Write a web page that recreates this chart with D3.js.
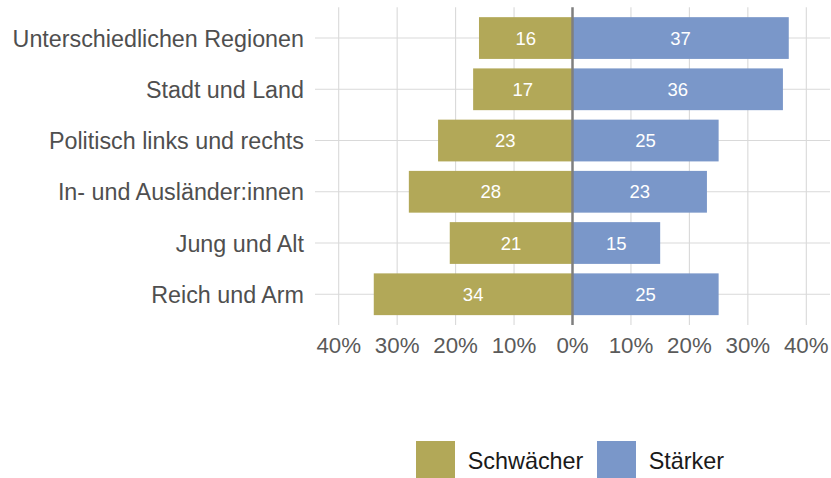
<!DOCTYPE html>
<html>
<head>
<meta charset="utf-8">
<script src="https://cdn.jsdelivr.net/npm/d3@7"></script>
<style>
  body { margin: 0; background: #fff; }
  text { font-family: "Liberation Sans", Arial, Helvetica, sans-serif; }
</style>
</head>
<body>
<div id="chart"></div>
<script>
var width = 831,
    height = 478;

// data
var categories = ["Unterschiedlichen Regionen", "Stadt und Land", "Politisch links und rechts",
                  "In- und Ausländer:innen", "Jung und Alt", "Reich und Arm"];
var schwaecher = [16, 17, 23, 28, 21, 34];
var staerker = [37, 36, 25, 23, 15, 25];
var ticks = [-40, -30, -20, -10, 0, 10, 20, 30, 40];
var seriesNames = ["Schwächer", "Stärker"];
var colors = ["#b2a858", "#7a97c9"];

var svg = d3.select("#chart")
    .append("svg")
    .attr("width", width)
    .attr("height", height);

var panelTop = 7.3, panelBottom = 325, panelLeft = 315, panelRight = 830;

var x = d3.scaleLinear().domain([-40, 40]).range([338.7, 806.3]);
var y = d3.scalePoint().domain(categories).range([panelTop, panelBottom]).padding(0.6);
var barH = y.step() * 0.815;

// grid
svg.selectAll(".vgrid")
    .data(ticks.filter(function(d) { return d != 0; }))
    .enter().append("line")
    .attr("x1", function(d) { return x(d); })
    .attr("x2", function(d) { return x(d); })
    .attr("y1", panelTop).attr("y2", panelBottom)
    .attr("stroke", "#d9d9d9").attr("stroke-width", 1.1);

svg.selectAll(".hgrid")
    .data(categories)
    .enter().append("line")
    .attr("x1", panelLeft).attr("x2", panelRight)
    .attr("y1", function(d) { return y(d); })
    .attr("y2", function(d) { return y(d); })
    .attr("stroke", "#d9d9d9").attr("stroke-width", 1.1);

// bars
var rows = categories.map(function(c, i) { return {cat: c, neg: schwaecher[i], pos: staerker[i]}; });

svg.selectAll(".neg")
    .data(rows)
    .enter().append("rect")
    .attr("x", function(d) { return x(-d.neg); })
    .attr("width", function(d) { return x(0) - x(-d.neg); })
    .attr("y", function(d) { return y(d.cat) - barH / 2; })
    .attr("height", barH)
    .attr("fill", colors[0]);

svg.selectAll(".pos")
    .data(rows)
    .enter().append("rect")
    .attr("x", x(0))
    .attr("width", function(d) { return x(d.pos) - x(0); })
    .attr("y", function(d) { return y(d.cat) - barH / 2; })
    .attr("height", barH)
    .attr("fill", colors[1]);

// bar labels
svg.selectAll(".negLabel")
    .data(rows)
    .enter().append("text")
    .attr("x", function(d) { return x(-d.neg / 2); })
    .attr("y", function(d) { return y(d.cat); })
    .attr("dy", "0.36em")
    .attr("text-anchor", "middle")
    .attr("fill", "#fff")
    .style("font-size", "18.5px")
    .text(function(d) { return d.neg; });

svg.selectAll(".posLabel")
    .data(rows)
    .enter().append("text")
    .attr("x", function(d) { return x(d.pos / 2); })
    .attr("y", function(d) { return y(d.cat); })
    .attr("dy", "0.36em")
    .attr("text-anchor", "middle")
    .attr("fill", "#fff")
    .style("font-size", "18.5px")
    .text(function(d) { return d.pos; });

// zero line
svg.append("line")
    .attr("x1", x(0)).attr("x2", x(0))
    .attr("y1", panelTop).attr("y2", panelBottom)
    .attr("stroke", "#7f7f7f").attr("stroke-width", 2.5);

// y labels
svg.selectAll(".ylab")
    .data(categories)
    .enter().append("text")
    .attr("x", 304)
    .attr("y", function(d) { return y(d); })
    .attr("dy", "0.37em")
    .attr("text-anchor", "end")
    .attr("fill", "#4f4f4f")
    .style("font-size", "23.3px")
    .text(function(d) { return d; });

// x tick labels
svg.selectAll(".xlab")
    .data(ticks)
    .enter().append("text")
    .attr("x", function(d) { return x(d); })
    .attr("y", 352.7)
    .attr("text-anchor", "middle")
    .attr("fill", "#5a5a5a")
    .style("font-size", "22.3px")
    .text(function(d) { return Math.abs(d) + "%"; });

// legend
var legendX = [416, 597];
var legend = svg.selectAll(".legend")
    .data(seriesNames)
    .enter().append("g")
    .attr("transform", function(d, i) { return "translate(" + legendX[i] + ",441)"; });

legend.append("rect")
    .attr("width", 39).attr("height", 37)
    .attr("fill", function(d, i) { return colors[i]; });

legend.append("text")
    .attr("x", 51.7)
    .attr("y", 28.3)
    .attr("fill", "#1a1a1a")
    .style("font-size", "23.4px")
    .text(function(d) { return d; });
</script>
</body>
</html>
